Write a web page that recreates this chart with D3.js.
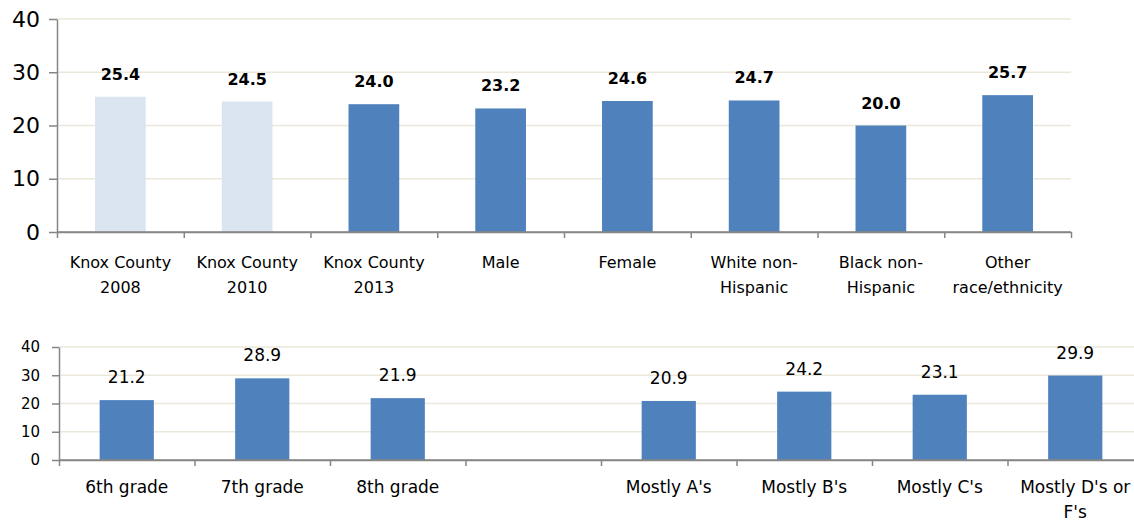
<!DOCTYPE html>
<html>
<head>
<meta charset="utf-8">
<script src="https://cdn.jsdelivr.net/npm/d3@7"></script>
<style>
  body { margin: 0; background: #fff; }
  text { font-family: "DejaVu Sans", sans-serif; fill: #000; }
</style>
</head>
<body>
<div id="chart"></div>
<script>
// data, top chart
let topCats = ["Knox County\n2008", "Knox County\n2010", "Knox County\n2013", "Male", "Female",
               "White non-\nHispanic", "Black non-\nHispanic", "Other\nrace/ethnicity"];
let topVals = [25.4, 24.5, 24.0, 23.2, 24.6, 24.7, 20.0, 25.7];
let pastYears = ["Knox County\n2008", "Knox County\n2010"];

// data, bottom chart (one empty slot between grades and marks)
let gradeCats = ["6th grade", "7th grade", "8th grade"];
let gradeVals = [21.2, 28.9, 21.9];
let markCats = ["Mostly A's", "Mostly B's", "Mostly C's", "Mostly D's or\nF's"];
let markVals = [20.9, 24.2, 23.1, 29.9];

let yTicks = [0, 10, 20, 30, 40];

let width = 1134, height = 523;
let dark = "#4f81bd", light = "#dbe5f1", axisColor = "#868686", gridColor = "#ebe7da";

let svg = d3.select("#chart").append("svg")
    .attr("width", width)
    .attr("height", height);

// draws one panel
function drawPanel(opt) {
    let n = opt.cats.length;
    let x = d3.scaleBand().domain(opt.cats)
        .range([opt.left, opt.right])
        .paddingInner(0.6).paddingOuter(0.3);
    let y = d3.scaleLinear().domain([0, 40]).range([opt.bottom, opt.top]);

    let g = svg.append("g");

    // gridlines
    g.selectAll(".grid").data(yTicks.slice(1)).enter()
        .append("line")
        .attr("x1", opt.left).attr("x2", opt.gridRight)
        .attr("y1", d => y(d)).attr("y2", d => y(d))
        .attr("stroke", gridColor).attr("stroke-width", 1.3);

    // bars
    let rows = opt.cats.map((c, i) => ({ cat: c, val: opt.vals[i] })).filter(d => d.val != null);
    g.selectAll(".bar").data(rows).enter()
        .append("rect")
        .attr("x", d => x(d.cat))
        .attr("width", x.bandwidth())
        .attr("y", d => y(d.val))
        .attr("height", d => y(0) - y(d.val))
        .attr("fill", d => pastYears.includes(d.cat) ? light : dark);

    // value labels
    g.selectAll(".val").data(rows).enter()
        .append("text")
        .attr("x", d => x(d.cat) + x.bandwidth() / 2)
        .attr("y", d => y(d.val) - 17)
        .attr("text-anchor", "middle")
        .attr("font-size", opt.valSize)
        .attr("font-weight", opt.valWeight)
        .text(d => d.val.toFixed(1));

    // y axis
    let yAxis = g.append("g")
        .attr("transform", `translate(${opt.left},0)`)
        .call(d3.axisLeft(y).tickValues(yTicks).tickSize(opt.yTick).tickSizeOuter(0).tickPadding(opt.yPad));
    yAxis.select(".domain").attr("stroke", axisColor).attr("stroke-width", 1.5);
    yAxis.selectAll(".tick line").attr("stroke", axisColor).attr("stroke-width", 1.5);
    yAxis.selectAll(".tick text").attr("font-size", opt.yFont).attr("font-family", "DejaVu Sans").attr("fill", "#000");

    // x axis, ticks between categories
    let xi = d3.scaleLinear().domain([0, n]).range([opt.left, opt.right]);
    let xAxis = g.append("g")
        .attr("transform", `translate(0,${opt.bottom})`)
        .call(d3.axisBottom(xi).tickValues(d3.range(n + 1)).tickSize(6).tickSizeOuter(0).tickFormat(""));
    xAxis.select(".domain").attr("stroke", axisColor).attr("stroke-width", 1.5);
    xAxis.selectAll(".tick line").attr("stroke", axisColor).attr("stroke-width", 1.5);
    g.append("line")
        .attr("x1", opt.left).attr("x2", opt.gridRight)
        .attr("y1", opt.bottom).attr("y2", opt.bottom)
        .attr("stroke", axisColor).attr("stroke-width", 1.5);

    // category labels
    let labels = g.selectAll(".cat").data(opt.cats.filter(c => c.trim() !== "")).enter()
        .append("text")
        .attr("text-anchor", "middle")
        .attr("font-size", opt.catSize);
    labels.each(function(c) {
        let t = d3.select(this);
        c.split("\n").forEach((line, j) => {
            t.append("tspan")
                .attr("x", x(c) + x.bandwidth() / 2)
                .attr("y", opt.bottom + opt.catOffset + j * 25)
                .text(line);
        });
    });
}

drawPanel({
    cats: topCats, vals: topVals,
    left: 57, right: 1071, gridRight: 1071, top: 19, bottom: 232,
    yTick: 8, yPad: 9, yFont: "22px",
    valSize: "16px", valWeight: "bold",
    catSize: "16px", catOffset: 36
});

drawPanel({
    cats: gradeCats.concat([" "], markCats),
    vals: gradeVals.concat([null], markVals),
    left: 59, right: 1143, gridRight: 1134, top: 347, bottom: 460,
    yTick: 7, yPad: 12, yFont: "15px",
    valSize: "17px", valWeight: "normal",
    catSize: "17px", catOffset: 33
});
</script>
</body>
</html>
